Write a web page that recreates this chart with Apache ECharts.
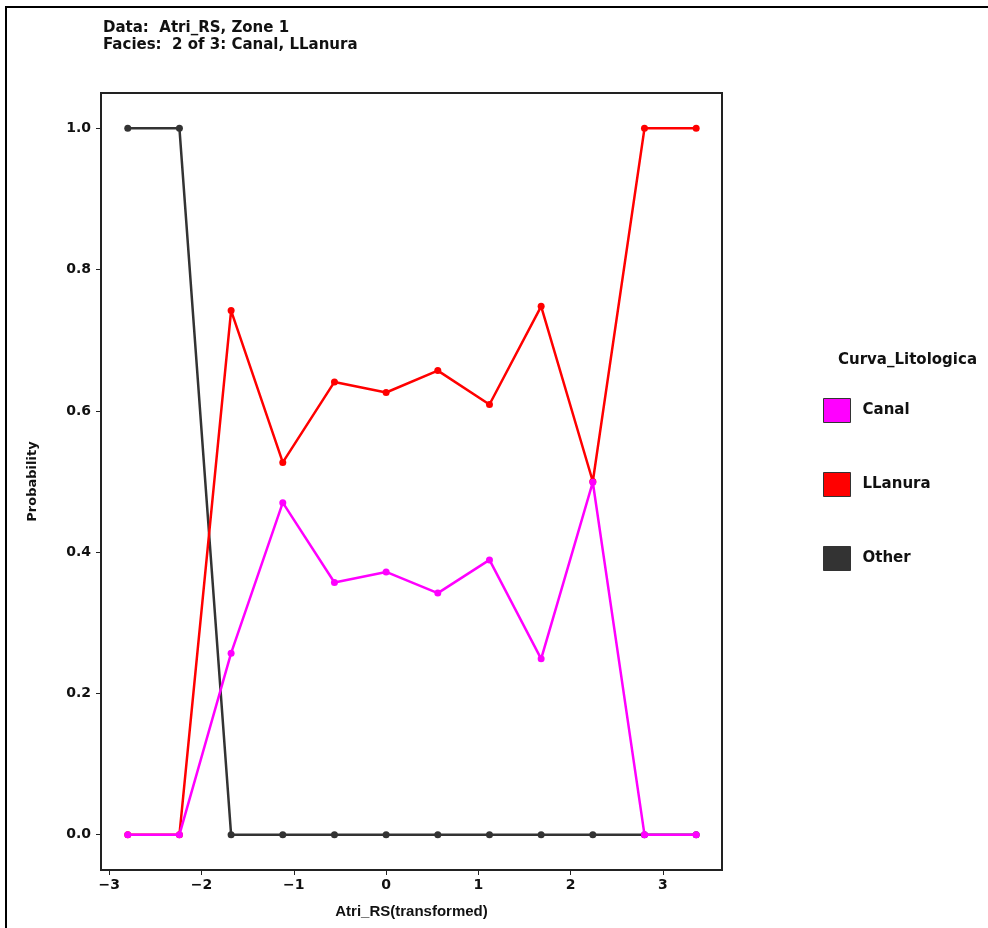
<!DOCTYPE html>
<html>
<head>
<meta charset="utf-8">
<script src="https://cdn.jsdelivr.net/npm/echarts@6/dist/echarts.min.js"></script>
<style>html,body{margin:0;padding:0;background:#fff}#c{width:988px;height:928px}</style>
</head>
<body>
<div id="c"></div>
<script>
const xValues = [-2.80, -2.24, -1.68, -1.12, -0.56, 0.00, 0.56, 1.12, 1.68, 2.24, 2.80, 3.36];
const canal   = [0, 0, 0.257, 0.470, 0.357, 0.372, 0.342, 0.389, 0.249, 0.499, 0, 0];
const llanura = [0, 0, 0.742, 0.527, 0.641, 0.626, 0.657, 0.609, 0.748, 0.500, 1, 1];
const other   = [1, 1, 0, 0, 0, 0, 0, 0, 0, 0, 0, 0];
const xTicks = [-3, -2, -1, 0, 1, 2, 3];
const yTicks = [0, 0.2, 0.4, 0.6, 0.8, 1.0];
const titleLines = ['Data:  Atri_RS, Zone 1', 'Facies:  2 of 3: Canal, LLanura'];
const legendTitle = 'Curva_Litologica';

const pairs = arr => xValues.map((x, i) => [x, arr[i]]);
const font = 'DejaVu Sans';
const chart = echarts.init(document.getElementById('c'), null, {renderer: 'canvas'});
const mk = (name, color, data, z) => ({
  name, type: 'line', data: pairs(data), z,
  symbol: 'circle', symbolSize: 7,
  lineStyle: {color, width: 2.5},
  itemStyle: {color},
  animation: false
});
chart.setOption({
  backgroundColor: '#fff',
  animation: false,
  grid: {left: 101, right: 266, top: 93, bottom: 58, show: true, borderColor: '#222', borderWidth: 2, backgroundColor: 'transparent'},
  xAxis: {
    type: 'value', min: -3.09, max: 3.64,
    name: 'Atri_RS(transformed)', nameLocation: 'middle', nameGap: 34,
    nameTextStyle: {fontFamily: 'Liberation Sans', fontSize: 15, fontWeight: 'bold', color: '#111'},
    axisLine: {show: true, onZero: false, lineStyle: {color: '#222', width: 2}},
    axisTick: {show: true, inside: false, length: 5, customValues: xTicks, lineStyle: {color: '#222'}},
    axisLabel: {customValues: xTicks, margin: 8, fontFamily: font, fontSize: 14, fontWeight: 'bold', color: '#111',
      formatter: v => (v < 0 ? '\u2212' + Math.abs(v) : String(v))},
    splitLine: {show: false}
  },
  yAxis: {
    type: 'value', min: -0.05, max: 1.05,
    name: 'Probability', nameLocation: 'middle', nameGap: 62,
    nameTextStyle: {fontFamily: font, fontSize: 13, fontWeight: 'bold', color: '#111'},
    axisLine: {show: true, onZero: false, lineStyle: {color: '#222', width: 2}},
    axisTick: {show: true, inside: false, length: 5, customValues: yTicks, lineStyle: {color: '#222'}},
    axisLabel: {customValues: yTicks, margin: 10, fontFamily: font, fontSize: 14, fontWeight: 'bold', color: '#111',
      formatter: v => v.toFixed(1)},
    splitLine: {show: false}
  },
  legend: {
    data: ['Canal', 'LLanura', 'Other'],
    orient: 'vertical', left: 818, top: 393,
    itemWidth: 27, itemHeight: 24, itemGap: 49,
    icon: 'rect',
    itemStyle: {borderColor: '#333', borderWidth: 1},
    textStyle: {fontFamily: font, fontSize: 15, fontWeight: 'bold', color: '#111', padding: [0, 0, 0, 7]}
  },
  graphic: [
    {type: 'rect', silent: true, shape: {x: 6, y: 7, width: 1100, height: 1100}, style: {fill: 'none', stroke: '#000', lineWidth: 2}},
    {type: 'text', left: 103, top: 20, style: {text: titleLines.join('\n'), font: 'bold 15px "DejaVu Sans"', fill: '#111', lineHeight: 17}},
    {type: 'text', left: 838, top: 353, style: {text: legendTitle, font: 'bold 15px "DejaVu Sans"', fill: '#111'}}
  ],
  series: [
    mk('Other', '#333333', other, 2),
    mk('LLanura', '#ff0000', llanura, 3),
    mk('Canal', '#ff00ff', canal, 4)
  ]
});
</script>
</body>
</html>
